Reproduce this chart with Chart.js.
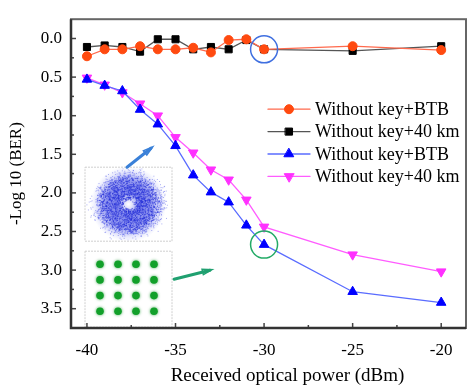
<!DOCTYPE html>
<html>
<head>
<meta charset="utf-8">
<script src="https://cdn.jsdelivr.net/npm/chart.js@4.4.1/dist/chart.umd.min.js"></script>
<style>
  html, body { margin: 0; padding: 0; background: #fff; }
  #wrap { width: 473px; height: 385px; position: relative; }
</style>
</head>
<body>
<div id="wrap"><canvas id="c" width="473" height="385"></canvas></div>
<script>
// ---- data ----
const powers = [-40, -39, -38, -37, -36, -35, -34, -33, -32, -31, -30, -25, -20];
const seriesLabels = ["Without key+BTB", "Without key+40 km", "Without key+BTB", "Without key+40 km"];
const noKeyBTB_top = [0.23, 0.14, 0.14, 0.10, 0.14, 0.14, 0.12, 0.18, 0.02, 0.01, 0.14, 0.10, 0.15];
const noKey40km_top = [0.11, 0.09, 0.11, 0.17, 0.01, 0.01, 0.14, 0.11, 0.14, 0.02, 0.14, 0.16, 0.10];
const noKeyBTB_low = [0.53, 0.61, 0.68, 0.92, 1.11, 1.39, 1.77, 1.99, 2.12, 2.42, 2.67, 3.28, 3.42];
const noKey40km_low = [0.51, 0.60, 0.70, 0.845, 1.00, 1.28, 1.48, 1.70, 1.83, 2.09, 2.44, 2.80, 3.02];
const xTicks = [-40, -35, -30, -25, -20];
const yTicks = [0.0, 0.5, 1.0, 1.5, 2.0, 2.5, 3.0, 3.5];
const xTitle = "Received optical power (dBm)";
const yTitle = "-Log 10 (BER)";

const FONT = "'Liberation Serif', 'Times New Roman', serif";
const pts = arr => powers.map((p, i) => ({ x: p, y: arr[i] }));

const datasets = [
  { label: seriesLabels[0], data: pts(noKeyBTB_top), borderColor: '#ff6a4d', backgroundColor: '#ff4a10',
    pointBorderColor: '#ff4a10', pointStyle: 'circle', pointRadius: 4.5, order: 0 },
  { label: seriesLabels[1], data: pts(noKey40km_top), borderColor: '#555555', backgroundColor: '#000000',
    pointBorderColor: '#000000', pointStyle: 'rect', pointRadius: 5, order: 1 },
  { label: seriesLabels[2], data: pts(noKeyBTB_low), borderColor: '#5a6cff', backgroundColor: '#0000ff',
    pointBorderColor: '#0000ff', pointStyle: 'triangle', pointRadius: 5.5, order: 2 },
  { label: seriesLabels[3], data: pts(noKey40km_low), borderColor: '#ff5cff', backgroundColor: '#ff30ff',
    pointBorderColor: '#ff30ff', pointStyle: 'triangle', pointRotation: 180, pointRadius: 5.5, order: 3 },
];
datasets.forEach(d => { d.borderWidth = 1.3; d.pointBorderWidth = 1; d.tension = 0; d.fill = false; });

// deterministic hash for decorative speckle texture only
const hash = k => { const s = Math.sin(k * 12.9898 + 78.233) * 43758.5453; return s - Math.floor(s); };

const decor = {
  id: 'decor',
  beforeDatasetsDraw(chart) {
    const { ctx, chartArea: a } = chart;
    ctx.save();
    const b1 = { x: a.left + 14, y: a.top + 148, w: 87, h: 74 };
    ctx.strokeStyle = '#cfcfcf'; ctx.lineWidth = 1; ctx.setLineDash([2, 1]);
    ctx.strokeRect(b1.x, b1.y, b1.w, b1.h);
    const cx = b1.x + b1.w / 2, cy = b1.y + b1.h / 2;
    ctx.save();
    ctx.beginPath(); ctx.rect(b1.x + 1, b1.y + 1, b1.w - 2, b1.h - 2); ctx.clip();
    const g = ctx.createRadialGradient(cx, cy, 0, cx, cy, 38);
    g.addColorStop(0.0, 'rgba(60,70,230,0.0)');
    g.addColorStop(0.1, 'rgba(60,70,230,0.15)');
    g.addColorStop(0.3, 'rgba(50,60,225,0.6)');
    g.addColorStop(0.6, 'rgba(50,60,225,0.55)');
    g.addColorStop(0.85, 'rgba(80,90,235,0.15)');
    g.addColorStop(1.0, 'rgba(120,130,240,0.0)');
    ctx.fillStyle = g;
    ctx.beginPath(); ctx.arc(cx, cy, 38, 0, Math.PI * 2); ctx.fill();
    for (let k = 0; k < 2600; k++) {
      const u = hash(k), v = hash(k + 5000), w = hash(k + 9000);
      const r = 4.5 + 28 * Math.pow(u, 0.85) + 10 * w * w * w;
      const t = 2 * Math.PI * v;
      ctx.fillStyle = r > 30 ? 'rgba(70,80,230,0.45)' : 'rgba(35,45,215,0.6)';
      ctx.fillRect(cx + r * Math.cos(t), cy + r * Math.sin(t) * 0.92, 1, 1);
    }
    ctx.restore();
    const b2 = { x: a.left + 14, y: a.top + 232, w: 87, h: 76 };
    ctx.strokeStyle = '#cfcfcf'; ctx.setLineDash([2, 1]);
    ctx.strokeRect(b2.x, b2.y, b2.w, b2.h);
    ctx.setLineDash([]);
    ctx.fillStyle = '#12a02a';
    ctx.shadowColor = 'rgba(20,150,40,0.8)'; ctx.shadowBlur = 3;
    for (let r = 0; r < 4; r++) for (let c = 0; c < 4; c++) {
      ctx.beginPath();
      ctx.arc(b2.x + 15 + c * 18, b2.y + 13 + r * 15.7, 3.8, 0, Math.PI * 2);
      ctx.fill();
    }
    ctx.restore();
  },
  afterDatasetsDraw(chart) {
    const { ctx, chartArea: a, scales: { x, y } } = chart;
    ctx.save();
    ctx.lineWidth = 1.5;
    ctx.strokeStyle = '#3f6fe0';
    ctx.beginPath(); ctx.arc(x.getPixelForValue(-30), y.getPixelForValue(noKeyBTB_top[10]), 13.5, 0, Math.PI * 2); ctx.stroke();
    ctx.strokeStyle = '#22aa66';
    ctx.beginPath(); ctx.arc(x.getPixelForValue(-30), y.getPixelForValue(noKeyBTB_low[10]), 13.5, 0, Math.PI * 2); ctx.stroke();
    function arrow(x0, y0, x1, y1, col) {
      ctx.strokeStyle = col; ctx.fillStyle = col; ctx.lineWidth = 3; ctx.lineCap = 'round';
      ctx.beginPath(); ctx.moveTo(x0, y0); ctx.lineTo(x1, y1); ctx.stroke();
      const ang = Math.atan2(y1 - y0, x1 - x0);
      ctx.lineWidth = 1.5;
      ctx.beginPath();
      ctx.moveTo(x1 + 2 * Math.cos(ang), y1 + 2 * Math.sin(ang));
      ctx.lineTo(x1 - 8 * Math.cos(ang - 0.35), y1 - 8 * Math.sin(ang - 0.35));
      ctx.lineTo(x1 - 8 * Math.cos(ang + 0.35), y1 - 8 * Math.sin(ang + 0.35));
      ctx.closePath(); ctx.stroke();
    }
    arrow(a.left + 56, a.top + 148, a.left + 80, a.top + 129, '#3a80d8');
    arrow(a.left + 103, a.top + 260, a.left + 139, a.top + 251, '#20a070');
    const lx = a.left + 197, ly = a.top + 90, step = 22.4;
    chart.data.datasets.forEach((d, i) => {
      const yy = ly + i * step;
      ctx.strokeStyle = d.borderColor; ctx.lineWidth = 1.3;
      ctx.beginPath(); ctx.moveTo(lx, yy); ctx.lineTo(lx + 42, yy); ctx.stroke();
      ctx.fillStyle = d.backgroundColor; ctx.strokeStyle = d.pointBorderColor; ctx.lineWidth = 1;
      Chart.helpers.drawPoint(ctx, { pointStyle: d.pointStyle, radius: d.pointRadius, rotation: d.pointRotation || 0, borderWidth: 1 }, lx + 21, yy);
      ctx.fillStyle = '#000'; ctx.font = `18px ${FONT}`; ctx.textBaseline = 'middle'; ctx.textAlign = 'left';
      ctx.fillText(d.label, lx + 47, yy + 1);
    });
    ctx.restore();
  },
  afterDraw(chart) {
    const { ctx, chartArea: a, scales: { x, y } } = chart;
    ctx.save();
    ctx.strokeStyle = '#444'; ctx.lineWidth = 1.5;
    for (let v = -40; v <= -20; v += 2.5) {
      const px = x.getPixelForValue(v); const len = (v % 5 === 0) ? 5 : 3;
      ctx.beginPath(); ctx.moveTo(px, a.bottom); ctx.lineTo(px, a.bottom - len); ctx.stroke();
    }
    for (let v = 0; v <= 3.75; v += 0.25) {
      const py = y.getPixelForValue(v); const len = (Math.abs(v * 2 - Math.round(v * 2)) < 1e-6) ? 5 : 3;
      ctx.beginPath(); ctx.moveTo(a.left, py); ctx.lineTo(a.left + len, py); ctx.stroke();
    }
    ctx.strokeStyle = '#666'; ctx.lineWidth = 2;
    ctx.strokeRect(a.left, a.top, a.right - a.left, a.bottom - a.top);
    ctx.strokeStyle = '#333'; ctx.lineWidth = 2.5;
    ctx.beginPath(); ctx.moveTo(a.left, a.top); ctx.lineTo(a.left, a.bottom); ctx.lineTo(a.right, a.bottom); ctx.stroke();
    ctx.fillStyle = '#000'; ctx.font = `19px ${FONT}`; ctx.textAlign = 'center'; ctx.textBaseline = 'middle';
    ctx.fillText(xTitle, (a.left + a.right) / 2 + 19, 376);
    ctx.restore();
  }
};

new Chart(document.getElementById('c'), {
  type: 'line',
  data: { datasets },
  options: {
    responsive: false,
    animation: false,
    devicePixelRatio: 1,
    layout: { padding: { top: 5, right: 7, left: 0, bottom: 0 } },
    plugins: { legend: { display: false }, tooltip: { enabled: false } },
    scales: {
      x: {
        type: 'linear', min: -40.9, max: -18.6,
        afterBuildTicks: s => { s.ticks = xTicks.map(v => ({ value: v })); },
        afterFit: s => { s.height = 57; },
        grid: { display: false, drawTicks: false },
        border: { display: false },
        ticks: { color: '#000', font: { family: FONT, size: 17 }, padding: 12, maxRotation: 0, autoSkip: false },
        title: { display: false, text: xTitle }
      },
      y: {
        type: 'linear', reverse: true, min: -0.25, max: 3.75,
        afterBuildTicks: s => { s.ticks = yTicks.map(v => ({ value: v })); },
        afterFit: s => { s.width = 71; },
        grid: { display: false, drawTicks: false },
        border: { display: false },
        ticks: { color: '#000', font: { family: FONT, size: 17 }, padding: 9, callback: v => Number(v).toFixed(1) },
        title: { display: true, text: yTitle, color: '#000', font: { family: FONT, size: 17, lineHeight: 1 }, padding: { top: 8, bottom: 0 } }
      }
    }
  },
  plugins: [decor]
});
</script>
</body>
</html>
